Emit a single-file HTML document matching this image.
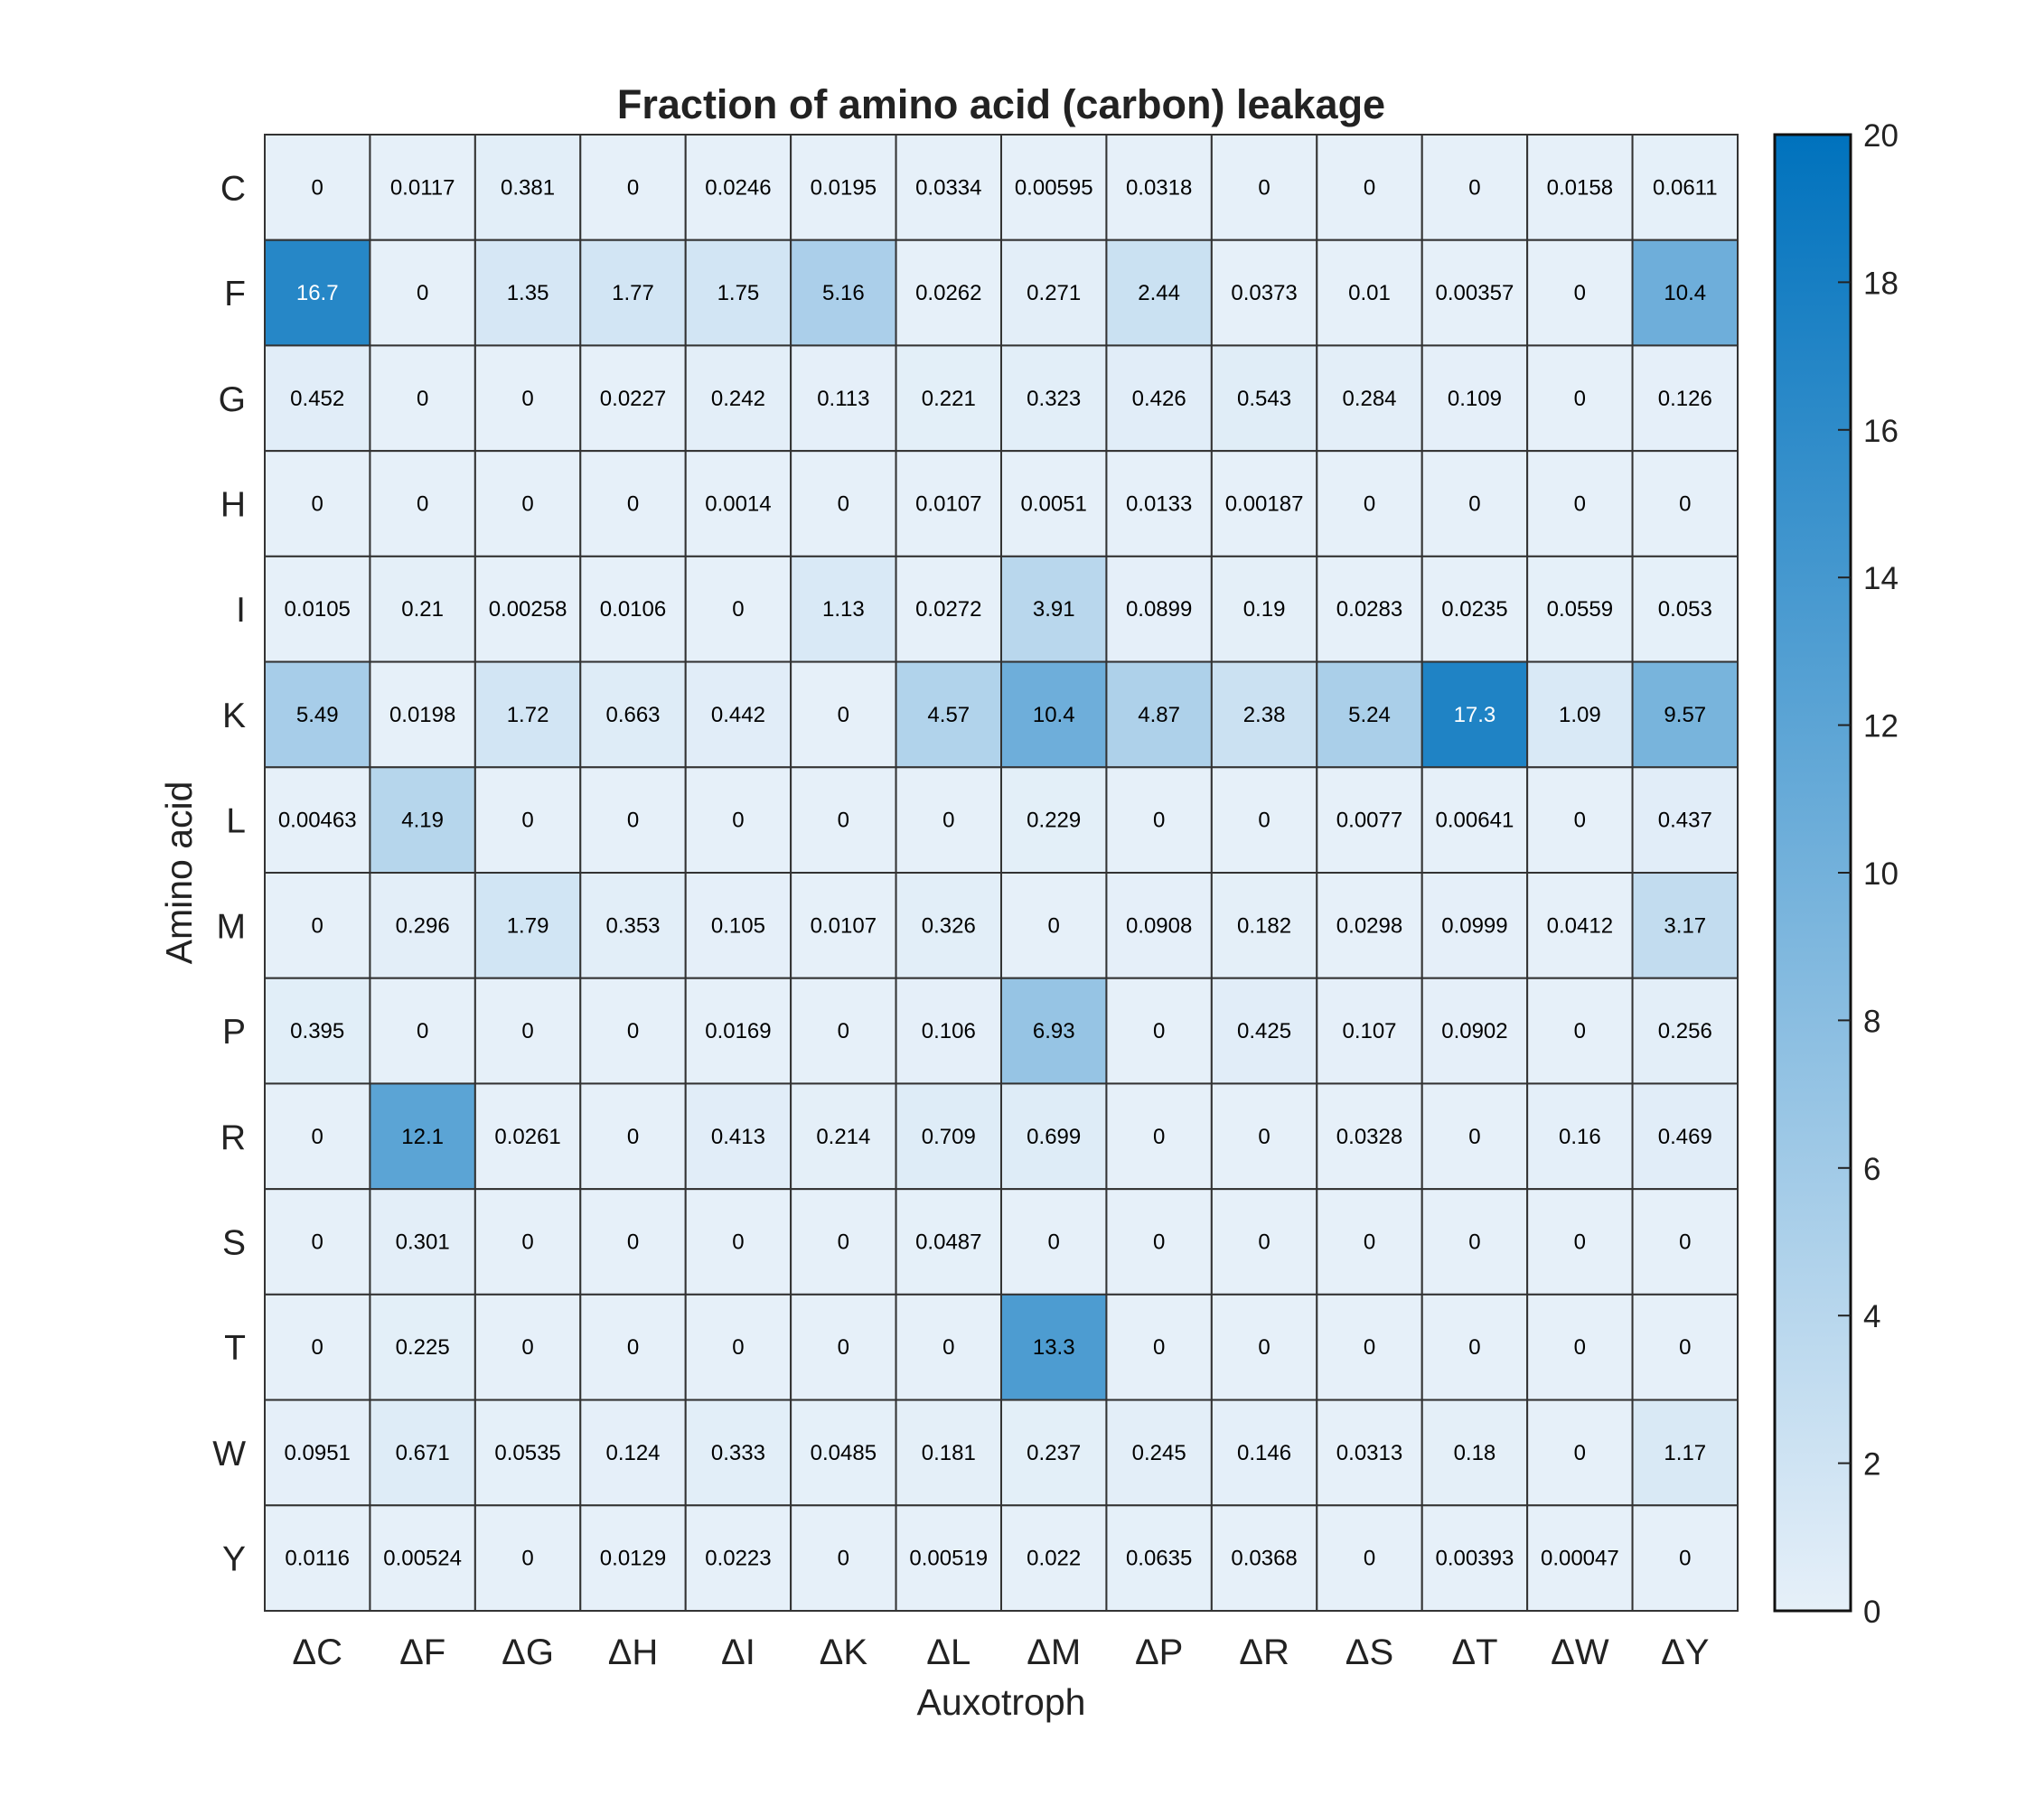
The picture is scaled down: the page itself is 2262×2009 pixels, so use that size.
<!DOCTYPE html>
<html><head><meta charset="utf-8"><style>
html,body{margin:0;padding:0;background:#fff;}
svg text{font-family:"Liberation Sans",sans-serif;}
</style></head><body>
<svg id="chart" width="2262" height="2004" viewBox="0 0 2262 2004" xmlns="http://www.w3.org/2000/svg">
<defs><linearGradient id="cbg" x1="0" y1="1" x2="0" y2="0"><stop offset="0" stop-color="rgb(230,240,249)"/><stop offset="1" stop-color="rgb(0,114,189)"/></linearGradient></defs>
<text x="1108" y="131" text-anchor="middle" font-size="45" font-weight="bold" fill="#222">Fraction of amino acid (carbon) leakage</text>
<g id="cells"></g>
<g id="labels"></g>
<rect x="1964" y="149" width="84" height="1634" fill="url(#cbg)" stroke="#111" stroke-width="3"/>
<g id="cbticks"></g>
<text x="1108" y="1898" text-anchor="middle" font-size="41" fill="#222">Auxotroph</text>
<text transform="translate(212,966) rotate(-90)" text-anchor="middle" font-size="41" fill="#222">Amino acid</text>
</svg>
<script>
const rowsLabels = ["C","F","G","H","I","K","L","M","P","R","S","T","W","Y"];
const colLabels = ["ΔC","ΔF","ΔG","ΔH","ΔI","ΔK","ΔL","ΔM","ΔP","ΔR","ΔS","ΔT","ΔW","ΔY"];
const valueText = [
["0","0.0117","0.381","0","0.0246","0.0195","0.0334","0.00595","0.0318","0","0","0","0.0158","0.0611"],
["16.7","0","1.35","1.77","1.75","5.16","0.0262","0.271","2.44","0.0373","0.01","0.00357","0","10.4"],
["0.452","0","0","0.0227","0.242","0.113","0.221","0.323","0.426","0.543","0.284","0.109","0","0.126"],
["0","0","0","0","0.0014","0","0.0107","0.0051","0.0133","0.00187","0","0","0","0"],
["0.0105","0.21","0.00258","0.0106","0","1.13","0.0272","3.91","0.0899","0.19","0.0283","0.0235","0.0559","0.053"],
["5.49","0.0198","1.72","0.663","0.442","0","4.57","10.4","4.87","2.38","5.24","17.3","1.09","9.57"],
["0.00463","4.19","0","0","0","0","0","0.229","0","0","0.0077","0.00641","0","0.437"],
["0","0.296","1.79","0.353","0.105","0.0107","0.326","0","0.0908","0.182","0.0298","0.0999","0.0412","3.17"],
["0.395","0","0","0","0.0169","0","0.106","6.93","0","0.425","0.107","0.0902","0","0.256"],
["0","12.1","0.0261","0","0.413","0.214","0.709","0.699","0","0","0.0328","0","0.16","0.469"],
["0","0.301","0","0","0","0","0.0487","0","0","0","0","0","0","0"],
["0","0.225","0","0","0","0","0","13.3","0","0","0","0","0","0"],
["0.0951","0.671","0.0535","0.124","0.333","0.0485","0.181","0.237","0.245","0.146","0.0313","0.18","0","1.17"],
["0.0116","0.00524","0","0.0129","0.0223","0","0.00519","0.022","0.0635","0.0368","0","0.00393","0.00047","0"]];
const cbTicks = [0,2,4,6,8,10,12,14,16,18,20];
const NS="http://www.w3.org/2000/svg";
const X0=293,X1=1923,Y0=149,Y1=1783,VMAX=20;
const cw=(X1-X0)/colLabels.length, rh=(Y1-Y0)/rowsLabels.length;
function xs(j){return X0+j*cw;}
function ys(i){return Y0+i*rh;}
function cy(v){return Y1-(v/VMAX)*(Y1-Y0);}
function col(v){const t=Math.min(1,Math.max(0,v/VMAX));return `rgb(${Math.round(230-230*t)},${Math.round(240-126*t)},${Math.round(249-60*t)})`;}
function mk(tag,attrs,parent,txt){const e=document.createElementNS(NS,tag);for(const k in attrs)e.setAttribute(k,attrs[k]);if(txt!==undefined)e.textContent=txt;parent.appendChild(e);return e;}
const cells=document.getElementById('cells'),labels=document.getElementById('labels'),cbt=document.getElementById('cbticks');
valueText.forEach((row,i)=>row.forEach((s,j)=>{
 const v=parseFloat(s);
 const r=mk('rect',{x:xs(j),y:ys(i),width:cw,height:rh,fill:col(v),stroke:'#333','stroke-width':2},cells);
 
 
 const t=mk('text',{x:xs(j)+cw/2,y:ys(i)+rh/2+8,'text-anchor':'middle','font-size':24,fill:v>15?'#fff':'#000'},cells,s);
 
 
}));
rowsLabels.forEach((l,i)=>{
 const t=mk('text',{x:272,y:ys(i)+rh/2+14,'text-anchor':'end','font-size':39,fill:'#222'},labels,l);
 
 
});
colLabels.forEach((l,j)=>{
 const t=mk('text',{x:xs(j)+cw/2,y:1842,'text-anchor':'middle','font-size':40,fill:'#222'},labels,l);
 
 
});
cbTicks.forEach(v=>{
 const y=cy(v);
 if(v>0&&v<20){mk('line',{x1:2034,x2:2048,y1:y,y2:y,stroke:'#222','stroke-width':2},cbt);}
 const t=mk('text',{x:2062,y:y+13,'font-size':35,fill:'#222'},cbt,String(v));
 
 
});
</script>
</body></html>
